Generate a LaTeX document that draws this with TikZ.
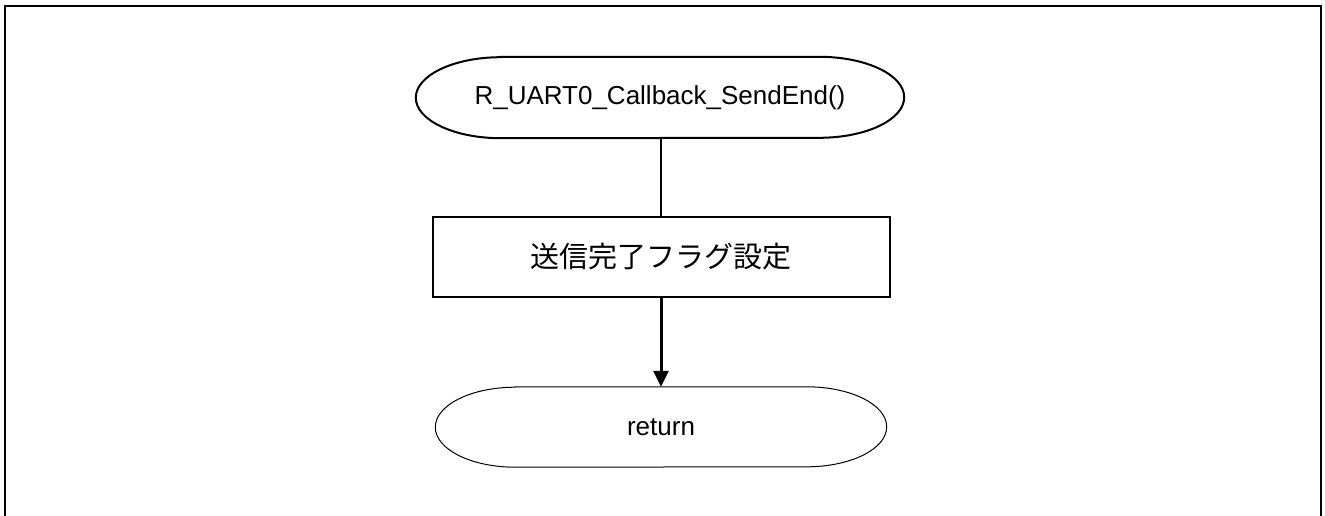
\documentclass[tikz,border=0pt]{standalone}
\usepackage{fontspec}
\setmainfont{Liberation Sans}
\newfontfamily\cjk{Noto Sans CJK JP}
\usetikzlibrary{arrows.meta,positioning}
\tikzset{
  termbox/.style={rectangle, draw=none, minimum width=#1, minimum height=81pt, inner sep=0pt, font=\fontsize{26}{30}\selectfont},
  procbox/.style={rectangle, draw, line width=2pt, minimum width=457pt, minimum height=80pt, inner sep=0pt, font=\cjk\fontsize{29}{34}\selectfont},
  flowline/.style={line width=2.4pt},
  flowarrow/.style={line width=3pt, -{Triangle[length=16pt,width=15pt]}},
}
\newcommand{\stadium}[4]{% node, x radius, y radius, line width
  \draw[line width=#4] ([xshift=#2]#1.north west) -- ([xshift=-#2]#1.north east)
    arc[start angle=90, end angle=-90, x radius=#2, y radius=#3]
    -- ([xshift=#2]#1.south west)
    arc[start angle=270, end angle=90, x radius=#2, y radius=#3] -- cycle;
}
\begin{document}
\begin{tikzpicture}[x=1pt,y=-1pt]
  \useasboundingbox (0,0) rectangle (1325,516);
  \clip (0,0) rectangle (1325,516);
  \draw[line width=2.4pt] (5,6) rectangle (1321,540);
  \node[termbox=488pt] (start) at (660,97.5) {R\_UART0\_Callback\_SendEnd()};
  \stadium{start}{85pt}{40.5pt}{2pt}
  \node[procbox] (flag) at (661,257) {送信完了フラグ設定};
  \node[termbox=451pt, minimum height=80pt] (ret) at (661,427) {return};
  \stadium{ret}{80pt}{40pt}{1pt}
  \draw[flowline] (start.south -| flag.north) -- (flag.north);
  \draw[flowarrow] (flag.south) -- (ret.north);
\end{tikzpicture}
\end{document}
